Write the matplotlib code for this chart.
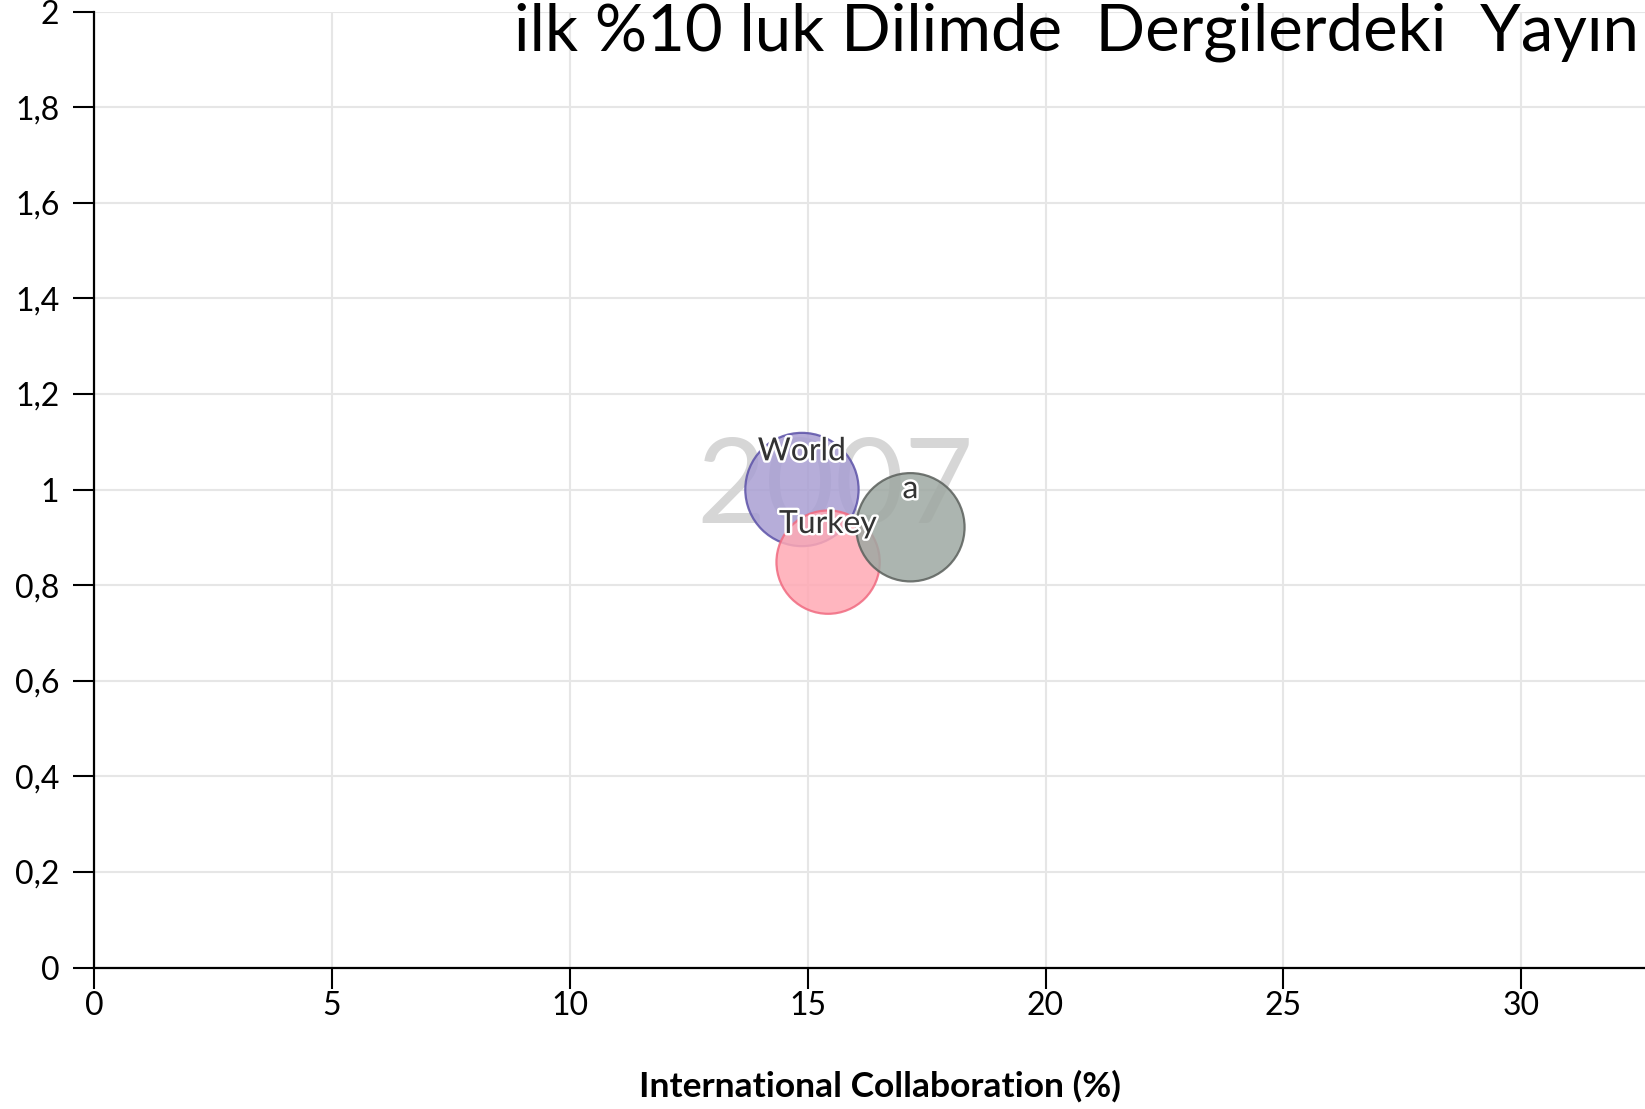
import matplotlib.pyplot as plt
import matplotlib.patheffects as pe

# bubble data for 2007
names = ['World', 'Turkey', 'a']
collab = [14.88, 15.43, 17.16]        # international collaboration (%)
impact = [1.00, 0.848, 0.921]         # share in top 10% journals (normalised)
pubs = [3215, 2673, 2938]             # bubble size (publication count, relative)
year = '2007'

xticks = [0, 5, 10, 15, 20, 25, 30]
yticks = [0, 0.2, 0.4, 0.6, 0.8, 1.0, 1.2, 1.4, 1.6, 1.8, 2.0]
ylabels = ['0', '0,2', '0,4', '0,6', '0,8', '1', '1,2', '1,4', '1,6', '1,8', '2']

fills = ['#a99fd3', '#ffa9b4', '#9ea8a2']
edges = ['#5c52a8', '#f06a80', '#5b605c']


def main():
    plt.rcParams['font.family'] = ['Lato', 'DejaVu Sans']

    fig = plt.figure(figsize=(16.45, 11.09), dpi=100)
    ax = fig.add_axes([94 / 1645, 141.5 / 1109, 1 - 94 / 1645, (967.5 - 11.5) / 1109])

    ax.set_xlim(0, 32.6)
    ax.set_ylim(0, 2)

    # year watermark behind the bubbles
    ax.text(0.478, 0.50, year, transform=ax.transAxes, ha='center', va='center',
            fontsize=86, color='#d6d6d6', zorder=1)

    sizes = [p * 2.07 for p in pubs]
    ax.scatter(collab, impact, s=sizes, c=fills, edgecolors=edges,
               linewidths=1.6, alpha=0.85, zorder=3)

    for n, x, y in zip(names, collab, impact):
        ax.annotate(n, (x, y), xytext=(0, 21), textcoords='offset points',
                    ha='center', va='baseline', fontsize=23, color='#333333',
                    zorder=5,
                    path_effects=[pe.withStroke(linewidth=3.5, foreground='white')])

    ax.set_xticks(xticks)
    ax.set_xticklabels([str(t) for t in xticks])
    ax.set_yticks(yticks)
    ax.set_yticklabels(ylabels)
    ax.tick_params(axis='both', length=15, width=1.5, labelsize=23, color='black')
    ax.tick_params(axis='x', pad=2)
    ax.tick_params(axis='y', pad=10)

    ax.grid(True, color='#e6e6e6', linewidth=1.5)
    ax.set_axisbelow(True)

    for s in ['top', 'right']:
        ax.spines[s].set_visible(False)
    for s in ['left', 'bottom']:
        ax.spines[s].set_linewidth(1.6)

    fig.text(880 / 1645, 1 - 1097 / 1109, 'International Collaboration (%)',
             ha='center', va='baseline', fontsize=25.5, fontweight='bold')

    fig.text(514 / 1645, 1 - 51 / 1109, 'ilk %10 luk Dilimde  Dergilerdeki  Yayın',
             ha='left', va='baseline', fontsize=47, color='black')

    plt.savefig('out.png', dpi=100)


if __name__ == '__main__':
    main()
